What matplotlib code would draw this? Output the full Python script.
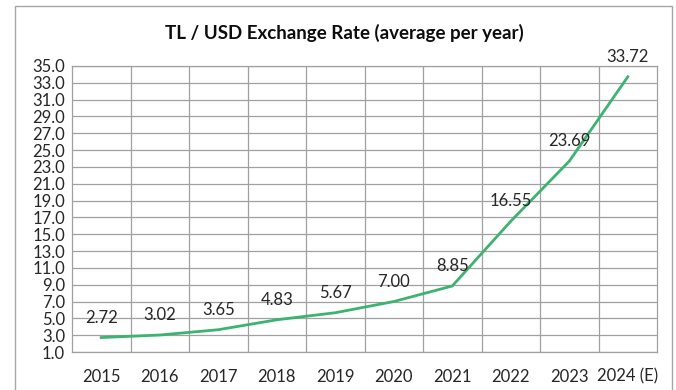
import matplotlib.pyplot as plt
from matplotlib.patches import Rectangle

# average TL per USD, one value per year
years = ["2015", "2016", "2017", "2018", "2019", "2020", "2021", "2022", "2023", "2024 (E)"]
rates = [2.72, 3.02, 3.65, 4.83, 5.67, 7.00, 8.85, 16.55, 23.69, 33.72]
y_ticks = [1.0 + 2 * i for i in range(18)]

plt.rcParams["font.family"] = ["Lato", "DejaVu Sans"]

fig = plt.figure(figsize=(6.76, 3.9), dpi=100)
fig.patch.set_facecolor("white")

# thin frame around the whole chart
fig.add_artist(Rectangle((0.022, -0.05), 0.972, 1.035, transform=fig.transFigure,
                         fill=False, edgecolor="#a6a6a6", linewidth=1.0, clip_on=False))

ax = fig.add_axes([0.1065, 0.0974, 0.8655, 0.7334])
xs = list(range(len(years)))
ax.plot(xs, rates, color="#3cb371", linewidth=2.0, zorder=3)

for x, v in zip(xs, rates):
    ax.annotate(f"{v:.2f}", (x, v), xytext=(0, 20), textcoords="offset pixels",
                ha="center", va="center", fontsize=12, color="#262626", zorder=4)

ax.set_xlim(-0.5, len(years) - 0.5)
ax.set_ylim(1.0, 35.0)
ax.set_yticks(y_ticks)
ax.set_yticklabels([f"{t:.1f}" for t in y_ticks])
ax.set_xticks(xs)
ax.set_xticklabels(years)

# vertical gridlines sit between categories
for b in range(1, len(years)):
    ax.axvline(b - 0.5, color="#a0a0a0", linewidth=0.9, zorder=1)
ax.yaxis.grid(True, color="#a0a0a0", linewidth=0.9, zorder=1)
ax.set_axisbelow(True)

for side in ["left", "right", "top", "bottom"]:
    ax.spines[side].set_color("#a0a0a0")
    ax.spines[side].set_linewidth(0.9)

ax.tick_params(axis="both", length=0, labelsize=12, labelcolor="#262626")
ax.tick_params(axis="y", pad=5)
ax.tick_params(axis="x", pad=12)

fig.text(0.51, 0.915, "TL / USD Exchange Rate (average per year)", ha="center", va="center",
         fontsize=13.5, fontweight="bold", color="#0d0d0d")

fig.savefig("out.png", dpi=100, facecolor="white")
